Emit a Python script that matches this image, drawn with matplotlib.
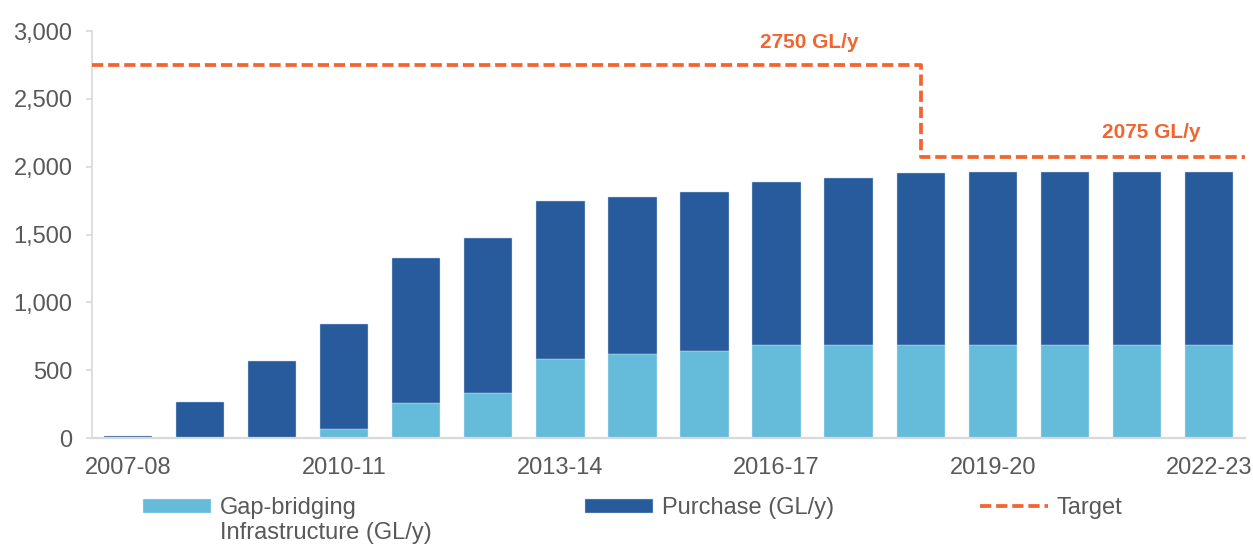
import numpy as np
import matplotlib
matplotlib.use("Agg")
import matplotlib.pyplot as plt
from matplotlib.ticker import FuncFormatter
from matplotlib.transforms import IdentityTransform

# -----------------------------
# Data (GL/y)
# -----------------------------
years = ["2007-08", "2008-09", "2009-10", "2010-11", "2011-12", "2012-13",
         "2013-14", "2014-15", "2015-16", "2016-17", "2017-18", "2018-19",
         "2019-20", "2020-21", "2021-22", "2022-23"]
gap_bridging = [0, 0, 0, 64, 256, 330, 586, 618, 643, 685, 685, 685, 685, 685, 685, 685]
purchase = [15, 264, 569, 773, 1073, 1142, 1164, 1162, 1169, 1206, 1235, 1270,
            1275, 1275, 1275, 1275]
target = [2750] * 11 + [2075] * 5
target_labels = ["2750 GL/y", "2075 GL/y"]

# -----------------------------
# Style
# -----------------------------
plt.rcParams["font.family"] = ["Liberation Sans", "DejaVu Sans"]
text_grey = "#595959"
light_blue = "#65BBDA"
dark_blue = "#275B9B"
orange = "#F26430"

W, H = 1253, 545
fig = plt.figure(figsize=(W / 100, H / 100), dpi=100)
ax = fig.add_axes([0.0734, 0.1963, 0.9202, 0.7467])

idx = np.arange(len(years))
width = 0.67

b_gap = ax.bar(idx, gap_bridging, width, color=light_blue, edgecolor="#dceaf2",
               linewidth=0.3, zorder=2)
b_pur = ax.bar(idx, purchase, width, bottom=gap_bridging, color=dark_blue,
               edgecolor="#c9d6e6", linewidth=0.3, zorder=2)

# target step line, extended to the axis edges
x_line = np.concatenate([[-0.5], idx, [len(years) - 0.5]])
y_line = np.concatenate([[target[0]], target, [target[-1]]])
l_tgt, = ax.plot(x_line, y_line, drawstyle="steps-post", color=orange, lw=2.7,
                 dashes=(3, 1.3), zorder=3)

ax.text(9.46, 2918, target_labels[0], color=orange, fontsize=15,
        fontweight="bold", ha="center", va="center")
ax.text(14.2, 2250, target_labels[1], color=orange, fontsize=15,
        fontweight="bold", ha="center", va="center")

# -----------------------------
# Axes
# -----------------------------
ax.set_xlim(-0.5, len(years) - 0.5)
ax.set_ylim(0, 3000)
ax.set_yticks(np.arange(0, 3001, 500))
ax.yaxis.set_major_formatter(FuncFormatter(lambda v, p: f"{int(v):,}"))
ax.set_xticks(idx[::3])
ax.set_xticklabels(years[::3])

for s in ["top", "right"]:
    ax.spines[s].set_visible(False)
ax.spines["left"].set_color("#d9d9d9")
ax.spines["left"].set_linewidth(1.2)
ax.spines["bottom"].set_color("#d9d9d9")
ax.spines["bottom"].set_linewidth(1.6)

ax.tick_params(axis="y", colors="#d9d9d9", labelcolor=text_grey, labelsize=17,
               length=4, width=1.2, pad=10)
ax.tick_params(axis="x", length=0, labelcolor=text_grey, labelsize=17, pad=14)

# -----------------------------
# Legend (one entry per slot, like the original layout)
# -----------------------------
legend_items = [(b_gap, "Gap-bridging"), (b_pur, "Purchase (GL/y)"), (l_tgt, "Target")]
legend_x = [143, 585, 980]
legend_y = 508
legends = []
for (h, lab), lx in zip(legend_items, legend_x):
    leg = fig.legend([h], [lab], loc="center left",
                     bbox_to_anchor=(lx / W, 1 - legend_y / H),
                     frameon=False, fontsize=17, labelcolor=text_grey,
                     borderpad=0, borderaxespad=0,
                     handlelength=2.9, handleheight=0.55, handletextpad=0.34)
    legends.append(leg)

# second line of the first label
fig.canvas.draw()
bb = legends[0].get_texts()[0].get_window_extent()
fig.text(bb.x0, (bb.y0 + bb.y1) / 2 - 25, "Infrastructure (GL/y)",
         transform=IdentityTransform(), fontsize=17, color=text_grey,
         ha="left", va="center")

fig.savefig("out.png", dpi=100)
